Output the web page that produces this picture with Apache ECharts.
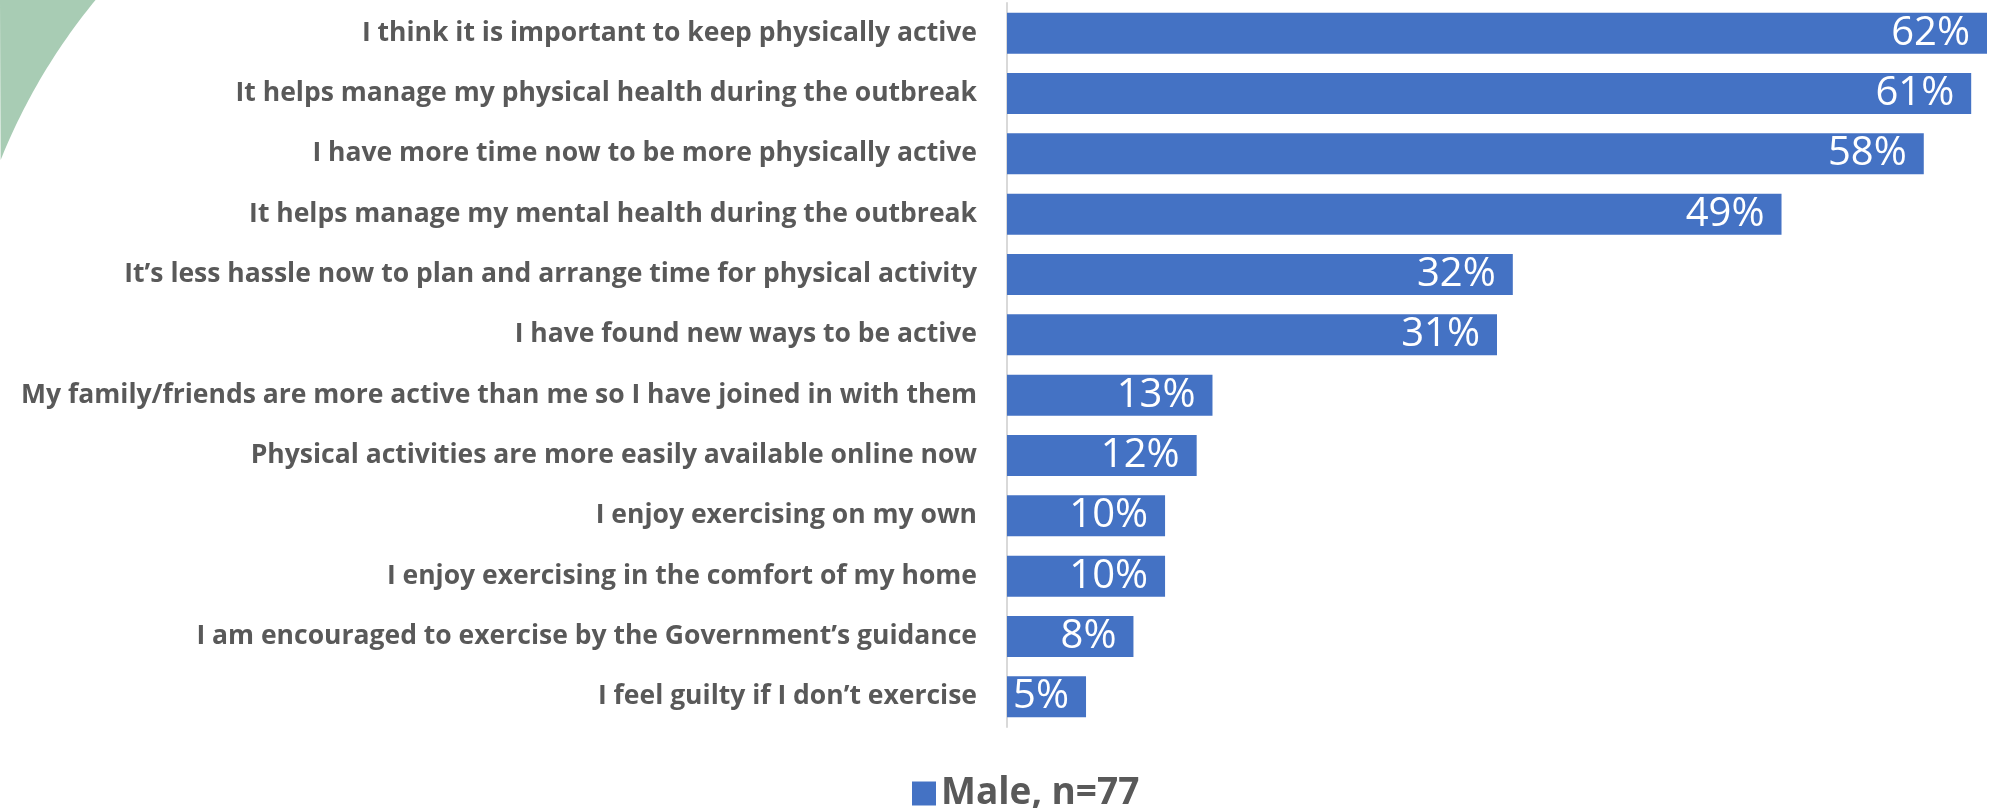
<!DOCTYPE html>
<html>
<head>
<meta charset="utf-8">
<script src="https://cdn.jsdelivr.net/npm/echarts@6/dist/echarts.min.js"></script>
<style>
  html, body { margin: 0; padding: 0; background: #ffffff; }
  #chart { width: 1994px; height: 808px; }
</style>
</head>
<body>
<div id="chart"></div>
<script>
// Reasons for being more physically active (top to bottom)
const reasons = [
  "I think it is important to keep physically active",
  "It helps manage my physical health during the outbreak",
  "I have more time now to be more physically active",
  "It helps manage my mental health during the outbreak",
  "It\u2019s less hassle now to plan and arrange time for physical activity",
  "I have found new ways to be active",
  "My family/friends are more active than me so I have joined in with them",
  "Physical activities are more easily available online now",
  "I enjoy exercising on my own",
  "I enjoy exercising in the comfort of my home",
  "I am encouraged to exercise by the Government\u2019s guidance",
  "I feel guilty if I don\u2019t exercise"
];
// Share of respondents, percent
const maleShare = [62, 61, 58, 49, 32, 31, 13, 12, 10, 10, 8, 5];
const seriesName = "Male, n=77";

const FONT = "'Open Sans', 'Noto Sans', sans-serif";

// Decorative green corner: the area outside a large circle in the top-left corner
function cornerShape() {
  const cx = 564, cy = 386, r = 607;
  const pts = [[0, 0]];
  const a0 = Math.atan2(0 - cy, Math.sqrt(r * r - cy * cy) * -1);
  const a1 = Math.atan2(160 - cy, -Math.sqrt(r * r - (160 - cy) * (160 - cy)));
  const steps = 40;
  for (let i = 0; i <= steps; i++) {
    const a = a0 + (a1 - a0) * i / steps;
    pts.push([cx + r * Math.cos(a), cy + r * Math.sin(a)]);
  }
  return pts;
}

const chart = echarts.init(document.getElementById('chart'), null, { renderer: 'canvas' });

chart.setOption({
  animation: false,
  backgroundColor: '#ffffff',
  graphic: [{
    type: 'polygon',
    z: -10,
    shape: { points: cornerShape() },
    style: { fill: '#a8ccb4' }
  }],
  grid: { left: 1007, right: 7, top: 3, height: 724, containLabel: false },
  xAxis: {
    type: 'value', min: 0, max: 62,
    show: false
  },
  yAxis: {
    type: 'category',
    data: reasons,
    inverse: true,
    axisLine: { show: true, lineStyle: { color: '#d9d9d9', width: 2 } },
    axisTick: { show: false },
    axisLabel: {
      margin: 30,
      fontFamily: FONT,
      fontWeight: 'bold',
      fontSize: 26.5,
      color: '#595959'
    }
  },
  legend: {
    left: 907, top: 770,
    itemWidth: 24, itemHeight: 24, itemGap: 10,
    icon: 'rect',
    textStyle: { fontFamily: FONT, fontWeight: 'bold', fontSize: 37, color: '#595959' },
    data: [seriesName]
  },
  series: [{
    name: seriesName,
    type: 'bar',
    data: maleShare,
    barWidth: 41,
    itemStyle: { color: '#4472c4' },
    label: {
      show: true,
      position: 'insideRight',
      distance: 17,
      formatter: p => p.value + '%',
      fontFamily: FONT,
      fontSize: 40,
      color: '#ffffff'
    }
  }]
});
</script>
</body>
</html>
